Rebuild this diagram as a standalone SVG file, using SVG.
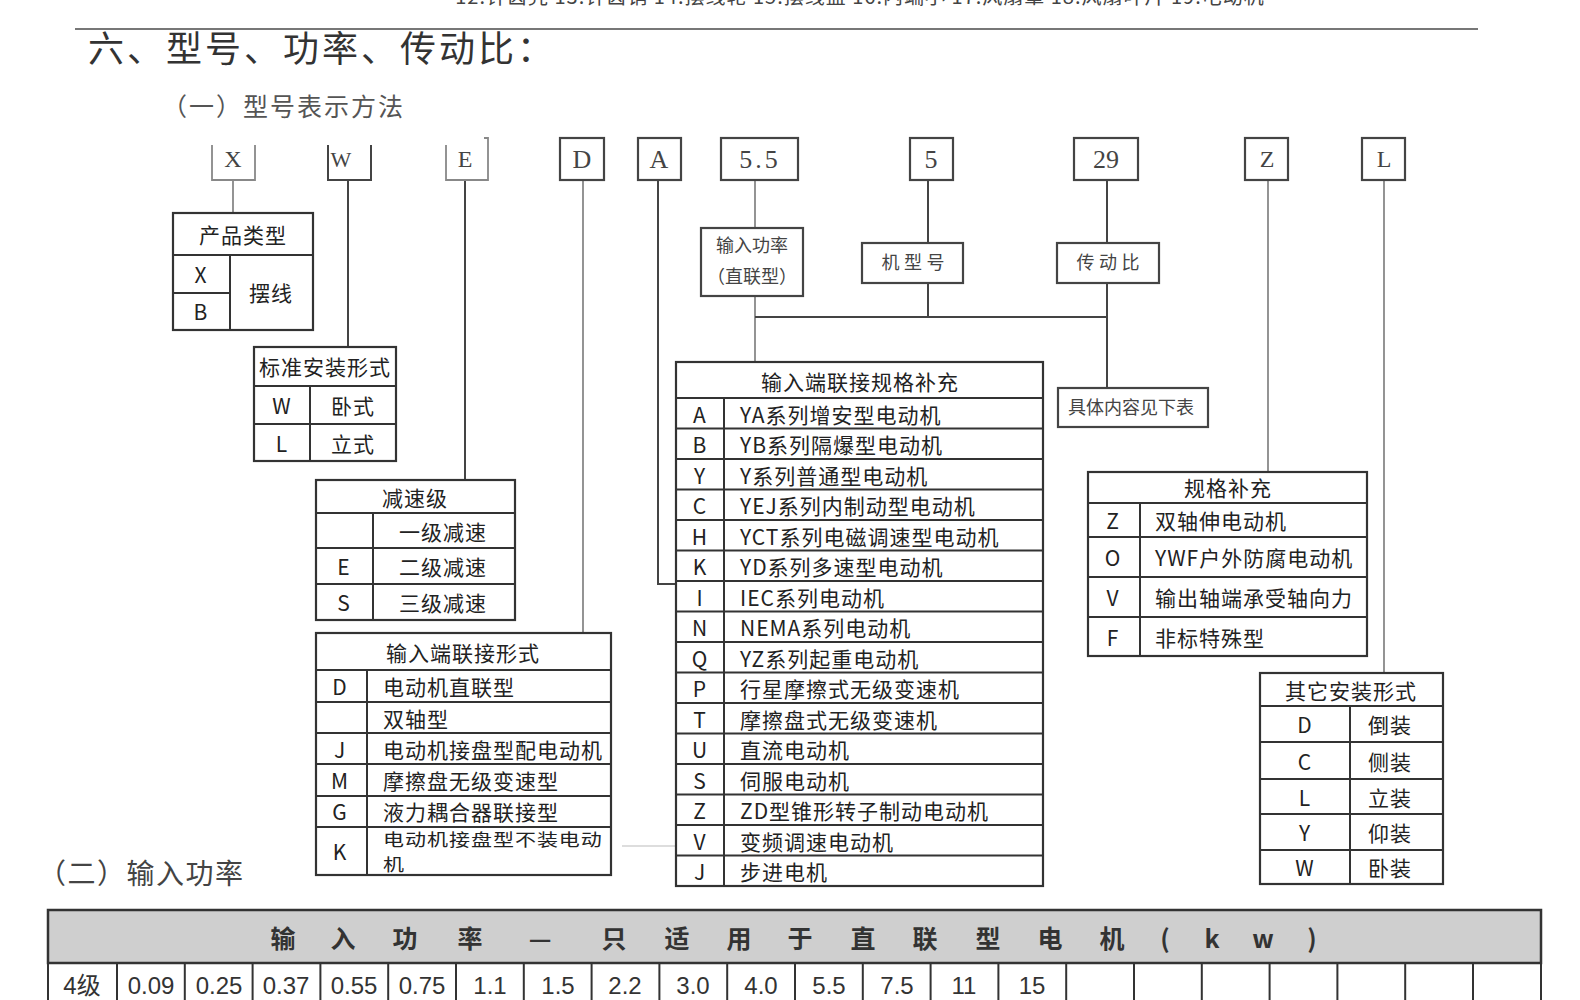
<svg xmlns="http://www.w3.org/2000/svg" width="1580" height="1000" viewBox="0 0 1580 1000">
<style>
.tb{fill:#fff;stroke:#333;stroke-width:2.2}
.ln{stroke:#333;stroke-width:2;fill:none}
.t{font-family:"Noto Sans CJK SC","Noto Sans",sans-serif;font-size:21px;fill:#222;letter-spacing:1px;dominant-baseline:central}
.c{text-anchor:middle}
.sf{font-family:"Liberation Serif","Noto Sans CJK SC",serif;fill:#444;dominant-baseline:central;text-anchor:middle}
.cn{stroke:#444;stroke-width:2;fill:none}
.cl{stroke:#888;stroke-width:1.8;fill:none}
.bx{fill:#fff;stroke:#444;stroke-width:2.2}
</style>
<rect width="1580" height="1000" fill="#fff"/>
<text x="860" y="4" font-family="Noto Sans CJK SC, sans-serif" font-size="20" fill="#444" text-anchor="middle" letter-spacing="1">12.针齿壳 13.针齿销 14.摆线轮 15.摆线盘 16.内端小 17.风扇罩 18.风扇叶片 19.电动机</text>
<line x1="75" y1="29" x2="1478" y2="29" stroke="#777" stroke-width="2"/>
<text x="88" y="62" font-family="Noto Sans CJK SC, sans-serif" font-size="36" fill="#333" letter-spacing="3">六、型号、功率、传动比：</text>
<text x="162" y="116" font-family="Noto Sans CJK SC, sans-serif" font-size="25" fill="#555" letter-spacing="2">（一）型号表示方法</text>

<g id="connectors">
<line class="cl" x1="233" y1="180" x2="233" y2="213"/>
<line class="cn" x1="348" y1="180" x2="348" y2="347"/>
<line class="cn" x1="465" y1="180" x2="465" y2="480"/>
<line class="cl" x1="583" y1="180" x2="583" y2="633"/>
<polyline class="cn" points="658,180 658,584 676,584"/>
<line class="cl" x1="755" y1="180" x2="755" y2="228"/>
<line class="cl" x1="755" y1="296" x2="755" y2="362"/>
<line class="cn" x1="755" y1="317" x2="1107" y2="317"/>
<line class="cn" x1="928" y1="180" x2="928" y2="243"/>
<line class="cn" x1="928" y1="283" x2="928" y2="317"/>
<line class="cn" x1="1107" y1="180" x2="1107" y2="243"/>
<line class="cn" x1="1107" y1="283" x2="1107" y2="388"/>
<line class="cl" x1="1268" y1="180" x2="1268" y2="472"/>
<line class="cl" x1="1384" y1="180" x2="1384" y2="673"/>
<line x1="622" y1="846" x2="1040" y2="846" stroke="#bbb" stroke-width="1.2"/>
</g>

<g id="code-X"><path class="cl" d="M212,145 V180 H255 V145"/><text class="sf" x="233" y="159" font-size="24" fill="#777">X</text></g>
<g id="code-W"><path class="cn" d="M328,145 V180 H371 V145"/><text class="sf" x="341" y="159" font-size="22">W</text></g>
<g id="code-E"><path class="cl" d="M446,145 V180 H488 V138 H484"/><text class="sf" x="465" y="159" font-size="24" fill="#777">E</text></g>
<g id="code-D"><rect class="bx" x="560" y="138" width="44" height="42"/><text class="sf" x="582" y="159" font-size="26">D</text></g>
<g id="code-A"><rect class="bx" x="638" y="138" width="43" height="42"/><text class="sf" x="659" y="159" font-size="26">A</text></g>
<g id="code-5.5"><rect class="bx" x="721" y="138" width="77" height="42"/><text class="sf" x="760" y="159" font-size="26" letter-spacing="3">5.5</text></g>
<g id="code-5"><rect class="bx" x="910" y="138" width="43" height="42"/><text class="sf" x="931" y="159" font-size="26">5</text></g>
<g id="code-29"><rect class="bx" x="1074" y="138" width="64" height="42"/><text class="sf" x="1106" y="159" font-size="26">29</text></g>
<g id="code-Z"><rect class="bx" x="1245" y="138" width="43" height="42"/><text class="sf" x="1267" y="159" font-size="24">Z</text></g>
<g id="code-L"><rect class="bx" x="1362" y="138" width="43" height="42"/><text class="sf" x="1384" y="159" font-size="24">L</text></g>

<g id="box-power"><rect class="bx" x="701" y="228" width="102" height="68"/><text class="sf" x="752" y="246" font-size="18">输入功率</text><text class="sf" x="752" y="277" font-size="18">（直联型）</text></g>
<g id="box-frame"><rect class="bx" x="862" y="243" width="101" height="40"/><text class="sf" x="913" y="263" font-size="18">机 型 号</text></g>
<g id="box-ratio"><rect class="bx" x="1057" y="243" width="102" height="40"/><text class="sf" x="1108" y="263" font-size="18">传 动 比</text></g>
<g id="box-detail"><rect class="bx" x="1058" y="388" width="150" height="39"/><text class="sf" x="1131" y="408" font-size="18">具体内容见下表</text></g>

<g id="tbl-product">
<rect class="tb" x="173" y="213" width="140" height="117"/>
<path class="ln" d="M173,255 H313 M230,255 V330 M173,293 H230"/>
<text class="t c" x="243" y="234">产品类型</text>
<text class="t c" x="201" y="274">X</text>
<text class="t c" x="201" y="311">B</text>
<text class="t c" x="271" y="292">摆线</text>
</g>

<g id="tbl-mount">
<rect class="tb" x="254" y="347" width="142" height="114"/>
<path class="ln" d="M254,386 H396 M254,424 H396 M310,386 V461"/>
<text class="t c" x="325" y="366" letter-spacing="0">标准安装形式</text>
<text class="t c" x="282" y="405">W</text><text class="t c" x="353" y="405">卧式</text>
<text class="t c" x="282" y="443">L</text><text class="t c" x="353" y="443">立式</text>
</g>

<g id="tbl-stage">
<rect class="tb" x="316" y="480" width="199" height="140"/>
<path class="ln" d="M316,513 H515 M316,548 H515 M316,584 H515 M373,513 V620"/>
<text class="t c" x="415" y="497">减速级</text>
<text class="t c" x="443" y="531">一级减速</text>
<text class="t c" x="344" y="566">E</text><text class="t c" x="443" y="566">二级减速</text>
<text class="t c" x="344" y="602">S</text><text class="t c" x="443" y="602">三级减速</text>
</g>

<g id="tbl-input">
<rect class="tb" x="316" y="633" width="295" height="242"/>
<path class="ln" d="M316,670 H611 M316,702 H611 M316,733 H611 M316,764 H611 M316,796 H611 M316,827 H611 M367,670 V875"/>
<text class="t c" x="463" y="652">输入端联接形式</text>
<text class="t c" x="340" y="686">D</text><text class="t" x="383" y="686">电动机直联型</text>
<text class="t" x="383" y="718">双轴型</text>
<text class="t c" x="340" y="749">J</text><text class="t" x="383" y="749" letter-spacing="0.6">电动机接盘型配电动机</text>
<text class="t c" x="340" y="780">M</text><text class="t" x="383" y="780">摩擦盘无级变速型</text>
<text class="t c" x="340" y="811">G</text><text class="t" x="383" y="811">液力耦合器联接型</text>
<text class="t c" x="340" y="851">K</text>
<text class="t" transform="translate(383,839) scale(1,0.82)" x="0" y="0" font-size="20" letter-spacing="2.2">电动机接盘型不装电动</text>
<text class="t" transform="translate(383,863.5) scale(1,0.82)" x="0" y="0" font-size="20">机</text>
</g>

<g id="tbl-spec">
<rect class="tb" x="676" y="362" width="367" height="524"/>
<path class="ln" d="M676,398 H1043 M724,398 V886 M676,428.5 H1043 M676,459 H1043 M676,489.5 H1043 M676,520 H1043 M676,550.5 H1043 M676,581 H1043 M676,611.5 H1043 M676,642 H1043 M676,672.5 H1043 M676,703 H1043 M676,733.5 H1043 M676,764 H1043 M676,794.5 H1043 M676,825 H1043 M676,855.5 H1043"/>
<text class="t c" x="860" y="381">输入端联接规格补充</text>
<text class="t c" x="700" y="414">A</text><text class="t" x="740" y="414">YA系列增安型电动机</text>
<text class="t c" x="700" y="444">B</text><text class="t" x="740" y="444">YB系列隔爆型电动机</text>
<text class="t c" x="700" y="475">Y</text><text class="t" x="740" y="475">Y系列普通型电动机</text>
<text class="t c" x="700" y="505">C</text><text class="t" x="740" y="505">YEJ系列内制动型电动机</text>
<text class="t c" x="700" y="536">H</text><text class="t" x="740" y="536">YCT系列电磁调速型电动机</text>
<text class="t c" x="700" y="566">K</text><text class="t" x="740" y="566">YD系列多速型电动机</text>
<text class="t c" x="700" y="597">I</text><text class="t" x="740" y="597">IEC系列电动机</text>
<text class="t c" x="700" y="627">N</text><text class="t" x="740" y="627">NEMA系列电动机</text>
<text class="t c" x="700" y="658">Q</text><text class="t" x="740" y="658">YZ系列起重电动机</text>
<text class="t c" x="700" y="688">P</text><text class="t" x="740" y="688">行星摩擦式无级变速机</text>
<text class="t c" x="700" y="719">T</text><text class="t" x="740" y="719">摩擦盘式无级变速机</text>
<text class="t c" x="700" y="749">U</text><text class="t" x="740" y="749">直流电动机</text>
<text class="t c" x="700" y="780">S</text><text class="t" x="740" y="780">伺服电动机</text>
<text class="t c" x="700" y="810">Z</text><text class="t" x="740" y="810">ZD型锥形转子制动电动机</text>
<text class="t c" x="700" y="841">V</text><text class="t" x="740" y="841">变频调速电动机</text>
<text class="t c" x="700" y="871">J</text><text class="t" x="740" y="871">步进电机</text>
</g>

<g id="tbl-extra">
<rect class="tb" x="1088" y="472" width="279" height="184"/>
<path class="ln" d="M1088,503 H1367 M1088,537 H1367 M1088,577 H1367 M1088,617 H1367 M1140,503 V656"/>
<text class="t c" x="1228" y="487">规格补充</text>
<text class="t c" x="1113" y="520">Z</text><text class="t" x="1155" y="520">双轴伸电动机</text>
<text class="t c" x="1113" y="557">O</text><text class="t" x="1155" y="557">YWF户外防腐电动机</text>
<text class="t c" x="1113" y="597">V</text><text class="t" x="1155" y="597">输出轴端承受轴向力</text>
<text class="t c" x="1113" y="637">F</text><text class="t" x="1155" y="637">非标特殊型</text>
</g>

<g id="tbl-other">
<rect class="tb" x="1260" y="673" width="183" height="211"/>
<path class="ln" d="M1260,706 H1443 M1260,742 H1443 M1260,779 H1443 M1260,814 H1443 M1260,850 H1443 M1350,706 V884"/>
<text class="t c" x="1351" y="690">其它安装形式</text>
<text class="t c" x="1305" y="724">D</text><text class="t c" x="1390" y="724">倒装</text>
<text class="t c" x="1305" y="761">C</text><text class="t c" x="1390" y="761">侧装</text>
<text class="t c" x="1305" y="797">L</text><text class="t c" x="1390" y="797">立装</text>
<text class="t c" x="1305" y="832">Y</text><text class="t c" x="1390" y="832">仰装</text>
<text class="t c" x="1305" y="867">W</text><text class="t c" x="1390" y="867">卧装</text>
</g>

<text x="38" y="884" font-family="Noto Sans CJK SC, sans-serif" font-size="28" fill="#444" letter-spacing="1.5">（二）输入功率</text>

<g id="tbl-power">
<rect x="48" y="910" width="1493" height="53" fill="#cfcfcf" stroke="#333" stroke-width="2.5"/>
<path class="ln" d="M48,963 V1002 H1541 V963 M117,963 V1002 M184.8,963 V1002 M252.6,963 V1002 M320.4,963 V1002 M388.2,963 V1002 M456,963 V1002 M523.8,963 V1002 M591.6,963 V1002 M659.4,963 V1002 M727.2,963 V1002 M795,963 V1002 M862.8,963 V1002 M930.6,963 V1002 M998.4,963 V1002 M1066.2,963 V1002 M1134,963 V1002 M1201.8,963 V1002 M1269.6,963 V1002 M1337.4,963 V1002 M1405.2,963 V1002 M1473,963 V1002"/>
<text x="283 343 405 470 540 614 677 739 800 863 925 988 1050 1112 1165 1212 1263 1312" y="937" font-family="Noto Sans CJK SC, sans-serif" font-size="25" font-weight="bold" fill="#333" text-anchor="middle" dominant-baseline="central">输入功率—只适用于直联型电机(kw)</text>
<g font-family="Liberation Sans, Noto Sans CJK SC, sans-serif" font-size="24" fill="#333" text-anchor="middle">
<text x="82" y="994">4级</text>
<text x="151" y="994">0.09</text>
<text x="219" y="994">0.25</text>
<text x="286" y="994">0.37</text>
<text x="354" y="994">0.55</text>
<text x="422" y="994">0.75</text>
<text x="490" y="994">1.1</text>
<text x="558" y="994">1.5</text>
<text x="625" y="994">2.2</text>
<text x="693" y="994">3.0</text>
<text x="761" y="994">4.0</text>
<text x="829" y="994">5.5</text>
<text x="897" y="994">7.5</text>
<text x="964" y="994">11</text>
<text x="1032" y="994">15</text>
</g>
</g>
</svg>
